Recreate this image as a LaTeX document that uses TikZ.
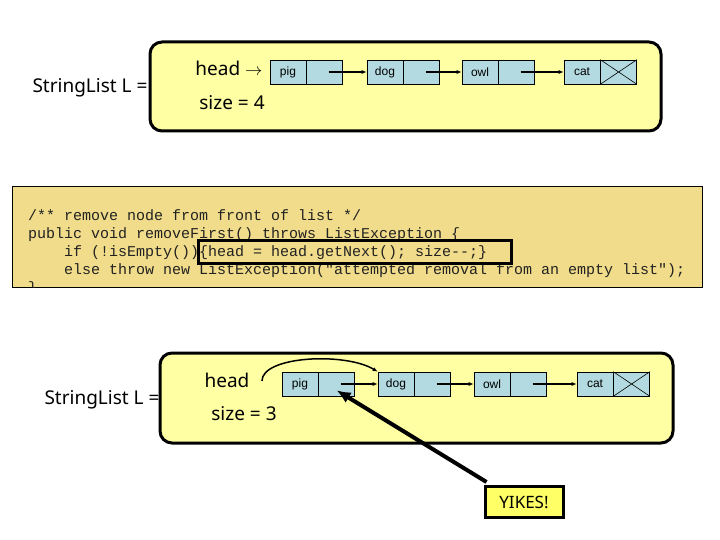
\documentclass[tikz,border=0pt]{standalone}
\usepackage{fontspec}
\setmainfont{Noto Sans}
\setmonofont{Liberation Mono}
\newfontfamily\cellfont{Liberation Sans}
\usepackage{xcolor}
\usepackage{tikz}
\usetikzlibrary{arrows.meta,positioning}
\definecolor{Butter}{HTML}{FFFFA4}
\definecolor{Frost}{HTML}{B3DAE0}
\definecolor{Sand}{HTML}{F0DC8A}
\definecolor{Lemon}{HTML}{FFFF66}
\definecolor{Ink}{HTML}{222222}

\begin{document}
\begin{tikzpicture}[x=1pt,y=-1pt,
    listbox/.style={draw,line width=3pt,rounded corners=12pt,fill=Butter,inner sep=0pt},
    cell/.style={draw,line width=0.6pt,fill=Frost,minimum width=36pt,minimum height=24pt,
                 inner sep=0pt,font=\fontsize{12}{14}\selectfont\cellfont},
    label/.style={font=\fontsize{19}{22}\selectfont},
    link/.style={-{Latex[length=5pt,width=4pt]},line width=1.5pt}]
  \useasboundingbox (0,0) rectangle (720,540);

  % before the call
  \node[listbox,minimum width=511pt,minimum height=89pt] (listA) at (405.5,86.5) {};
  \node[label] (nameA) at (90,88) {StringList L =};
  \node[label] (headA) at (229,68) {head $\rightarrow$};
  \node[label] (sizeA) at (232,103) {size = 4};
  \node[cell] (pigA) at (288,72) {pig};
  \node[cell,right=0pt of pigA] (pigAp) {};
  \node[cell] (dogA) at (385,72) {dog};
  \node[cell,right=0pt of dogA] (dogAp) {};
  \node[cell] (owlA) at (480,72) {owl};
  \node[cell,right=0pt of owlA] (owlAp) {};
  \node[cell] (catA) at (582,72) {cat};
  \node[cell,right=0pt of catA] (catAp) {};
  \draw[line width=0.6pt] (catAp.north west) -- (catAp.south east) (catAp.south west) -- (catAp.north east);
  \draw[link] ([xshift=4pt]pigAp.center) -- (dogA.west);
  \draw[link] ([xshift=4pt]dogAp.center) -- (owlA.west);
  \draw[link] ([xshift=4pt]owlAp.center) -- (catA.west);

  % the method
  \node[draw,line width=0.8pt,fill=Sand,minimum width=690pt,minimum height=101pt,inner sep=0pt] (code) at (357,236.5) {};
  \begin{scope}
    \clip (code.north west) rectangle (code.south east);
    \node[anchor=north west,inner sep=0pt,align=left,text=Ink,font=\fontsize{15}{18}\selectfont\ttfamily] (codetext) at (28,209)
      {/** remove node from front of list */\\
       public void removeFirst() throws ListException \{\\
       \ \ \ \ if (!isEmpty())\{head = head.getNext(); size--;\}\\
       \ \ \ \ else throw new ListException("attempted removal from an empty list");\\
       \}};
  \end{scope}
  \node[draw,line width=3pt,minimum width=313pt,minimum height=23pt,inner sep=0pt] (step) at (354.5,252) {};

  % after the call
  \node[listbox,minimum width=513pt,minimum height=90pt] (listB) at (416.5,398) {};
  \node[label] (nameB) at (102,400) {StringList L =};
  \node[label] (headB) at (227,380) {head};
  \node[label] (sizeB) at (244,414) {size = 3};
  \node[cell] (pigB) at (300,384) {pig};
  \node[cell,right=0pt of pigB] (pigBp) {};
  \node[cell] (dogB) at (396,384) {dog};
  \node[cell,right=0pt of dogB] (dogBp) {};
  \node[cell] (owlB) at (492,384) {owl};
  \node[cell,right=0pt of owlB] (owlBp) {};
  \node[cell] (catB) at (595,384) {cat};
  \node[cell,right=0pt of catB] (catBp) {};
  \draw[line width=0.6pt] (catBp.north west) -- (catBp.south east) (catBp.south west) -- (catBp.north east);
  \draw[link] ([xshift=4pt]pigBp.center) -- (dogB.west);
  \draw[link] ([xshift=4pt]dogBp.center) -- (owlB.west);
  \draw[link] ([xshift=4pt]owlBp.center) -- (catB.west);
  \draw[link] ([xshift=9pt,yshift=-1pt]headB.east) .. controls (262,356) and (345,352) .. (dogB.north west);

  \node[draw,line width=3pt,fill=Lemon,minimum width=78pt,minimum height=31pt,inner sep=0pt,
        font=\fontsize{17}{20}\selectfont] (yikes) at (524,502) {YIKES!};
  \draw[-{Latex[length=14pt,width=12pt]},line width=4pt] ([xshift=3pt,yshift=3pt]yikes.north west) -- ([yshift=6pt]pigBp.south);
\end{tikzpicture}
\end{document}
